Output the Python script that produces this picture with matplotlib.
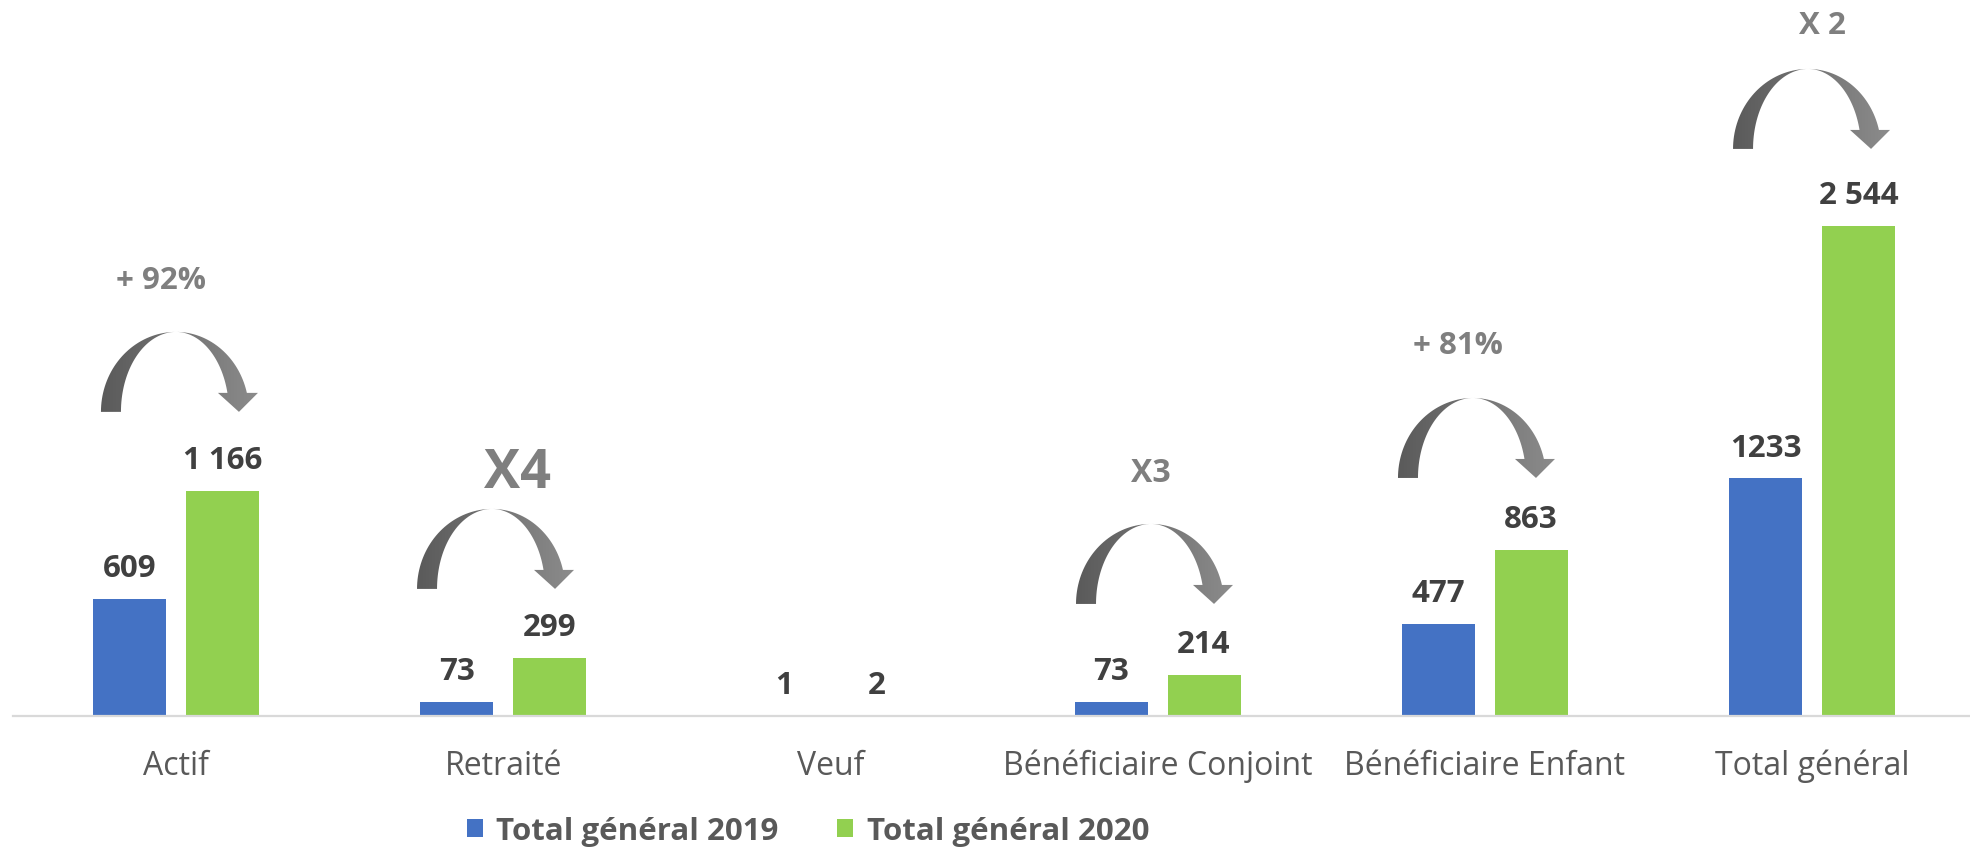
import numpy as np
import matplotlib
matplotlib.use('Agg')
import matplotlib.pyplot as plt
from matplotlib.path import Path
from matplotlib.patches import PathPatch

plt.rcParams['font.family'] = ['Open Sans', 'DejaVu Sans']

categories = ['Actif', 'Retraité', 'Veuf', 'Bénéficiaire Conjoint',
              'Bénéficiaire Enfant', 'Total général']
total_2019 = [609, 73, 1, 73, 477, 1233]
total_2020 = [1166, 299, 2, 214, 863, 2544]
labels_2019 = ['609', '73', '1', '73', '477', '1233']
labels_2020 = ['1 166', '299', '2', '214', '863', '2 544']
series_names = ['Total général 2019', 'Total général 2020']

# growth callouts (text + curved arrow above each group)
growth_text = ['+ 92%', 'X4', 'X3', '+ 81%', 'X 2']
growth_x = [-0.046, 1.045, 2.98, 3.918, 5.031]
growth_y = [2222, 1189, 1220, 1885, 3546]
growth_size = [22.5, 39, 23, 22.5, 22.5]
arrow_x = [0.0, 0.966, 2.98, 3.964, 4.988]
arrow_top = [1994, 1075, 997, 1651, 3359]

W, H = 1970, 854
fig = plt.figure(figsize=(W / 100, H / 100), dpi=100)
ax = fig.add_axes([13 / W, 137 / H, 1957 / W, 717 / H])
ax.set_xlim(-0.498, 5.483)
ax.set_ylim(0, 3722)

x = np.arange(len(categories))
off, bw = 0.142, 0.223
b1 = ax.bar(x - off, total_2019, width=bw, color='#4472C4')
b2 = ax.bar(x + off, total_2020, width=bw, color='#92D050')

for s in ax.spines.values():
    s.set_visible(False)
ax.spines['bottom'].set_visible(True)
ax.spines['bottom'].set_color('#d9d9d9')
ax.spines['bottom'].set_linewidth(1.6)
ax.set_xticks([])
ax.set_yticks([])

for xs, vals, labs in [(x - off, total_2019, labels_2019), (x + off, total_2020, labels_2020)]:
    for xi, v, lab in zip(xs, vals, labs):
        ax.annotate(lab, (xi, v), xytext=(0, 16.5), textcoords='offset points',
                    ha='center', va='baseline', fontsize=22.5, fontweight='bold',
                    color='#404040')

for i, c in enumerate(categories):
    ax.text(i, -301, c, ha='center', va='baseline', fontsize=23, color='#595959')

for t, tx, ty, fs in zip(growth_text, growth_x, growth_y, growth_size):
    ax.text(tx, ty, t, ha='center', va='baseline', fontsize=fs,
            fontweight='bold', color='#7f7f7f')

fig.legend(handles=[b1, b2], labels=series_names, loc='center',
           bbox_to_anchor=(808 / W, 22 / H), ncol=2, frameon=False,
           prop={'family': 'Open Sans', 'weight': 'bold', 'size': 22.5},
           labelcolor='#595959', handlelength=0.52, handleheight=0.52,
           handletextpad=0.42, columnspacing=1.87, borderpad=0)

# overlay in pixel coords for the curved arrows
ov = fig.add_axes([0, 0, 1, 1], zorder=5)
ov.patch.set_alpha(0)
ov.axis('off')

grad = np.linspace(0, 1, 64).reshape(1, -1)
cmap = matplotlib.colors.LinearSegmentedColormap.from_list('g', ['#5a5a5a', '#8c8c8c'])


def curved_arrow(xt, yt):
    h = 80
    yb = yt - h
    th_l = np.linspace(np.pi, np.pi / 2, 40)
    th_end = np.arcsin(19 / h)
    th_r = np.linspace(np.pi / 2, th_end, 40)
    pts = []
    pts += [(xt + 75 * np.cos(t), yb + h * np.sin(t)) for t in th_l]
    pts += [(xt + 73 * np.cos(t), yb + h * np.sin(t)) for t in th_r]
    pts += [(xt + 82, yb + 19), (xt + 63, yb), (xt + 42, yb + 19)]
    pts += [(xt + 53 * np.cos(t), yb + h * np.sin(t)) for t in th_r[::-1]]
    pts += [(xt + 55 * np.cos(t), yb + h * np.sin(t)) for t in th_l[::-1]]
    path = Path(pts + [pts[0]], closed=True)
    patch = PathPatch(path, facecolor='none', edgecolor='none')
    ov.add_patch(patch)
    im = ov.imshow(grad, cmap=cmap, extent=[xt - 77, xt + 84, yb, yt + 1],
                   aspect='auto', interpolation='bilinear')
    im.set_clip_path(patch)


for axv, ayv in zip(arrow_x, arrow_top):
    px, py = ax.transData.transform((axv, ayv))
    curved_arrow(px, py)

ov.set_xlim(0, W)
ov.set_ylim(0, H)

fig.savefig('out.png', dpi=100)
